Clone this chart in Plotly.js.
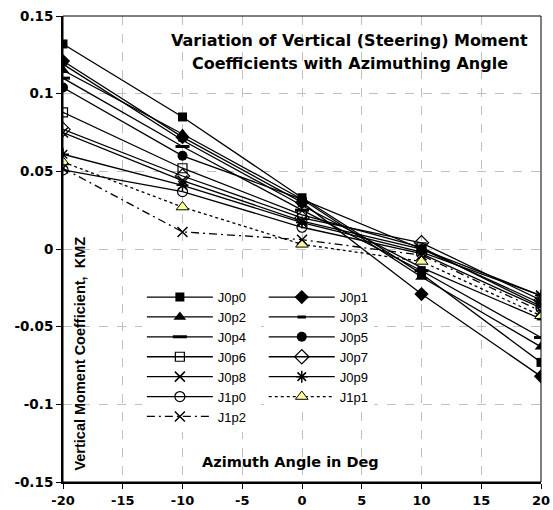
<!DOCTYPE html>
<html>
<head>
<meta charset="utf-8">
<script src="https://cdn.plot.ly/plotly-3.0.1.min.js"></script>
<style>html,body{margin:0;padding:0;background:#fff;}#chart{width:553px;height:510px;}</style>
</head>
<body>
<div id="chart"></div>
<script>
const angles = [-20, -10, 0, 10, 20];
const seriesNames = ["J0p0","J0p1","J0p2","J0p3","J0p4","J0p5","J0p6","J0p7","J0p8","J0p9","J1p0","J1p1","J1p2"];
const J0p0 = [0.132, 0.085, 0.033, -0.016, -0.073];
const J0p1 = [0.121, 0.072, 0.030, -0.029, -0.082];
const J0p2 = [0.115, 0.074, 0.032, -0.018, -0.063];
const J0p3 = [0.119, 0.070, 0.028, -0.012, -0.045];
const J0p4 = [0.110, 0.066, 0.025, -0.014, -0.057];
const J0p5 = [0.104, 0.060, 0.032, 0.000, -0.035];
const J0p6 = [0.088, 0.052, 0.022, 0.001, -0.037];
const J0p7 = [0.077, 0.047, 0.020, 0.004, -0.033];
const J0p8 = [0.075, 0.044, 0.018, 0.000, -0.030];
const J0p9 = [0.061, 0.041, 0.017, -0.002, -0.030];
const J1p0 = [0.051, 0.037, 0.014, -0.003, -0.038];
const J1p1 = [0.056, 0.027, 0.003, -0.008, -0.043];
const J1p2 = [0.052, 0.011, 0.006, -0.004, -0.040];
const seriesValues = [J0p0,J0p1,J0p2,J0p3,J0p4,J0p5,J0p6,J0p7,J0p8,J0p9,J1p0,J1p1,J1p2];
const xTicks = [-20,-15,-10,-5,0,5,10,15,20];
const yTicks = [-0.15,-0.1,-0.05,0,0.05,0.1,0.15];
const yTickText = ["-0.15","-0.1","-0.05","0","0.05","0.1","0.15"];

const styles = [
  {symbol:"square", size:9, color:"#000", lw:0, dash:"solid"},
  {symbol:"diamond", size:11, color:"#000", lw:0, dash:"solid"},
  {symbol:"triangle-up", size:11, color:"#000", lw:0, dash:"solid"},
  {symbol:"line-ew", size:6, color:"#000", lw:3, dash:"solid"},
  {symbol:"line-ew", size:10, color:"#000", lw:3, dash:"solid"},
  {symbol:"circle", size:10, color:"#000", lw:0, dash:"solid"},
  {symbol:"square-open", size:9, color:"#000", lw:1.2, dash:"solid"},
  {symbol:"diamond-open", size:11, color:"#000", lw:1.2, dash:"solid"},
  {symbol:"x-thin", size:10, color:"#000", lw:1.5, dash:"solid"},
  {symbol:"asterisk", size:10, color:"#000", lw:1.5, dash:"solid"},
  {symbol:"circle-open", size:10, color:"#000", lw:1.2, dash:"solid"},
  {symbol:"triangle-up", size:11, color:"#FFFF99", lw:1, dash:"dot"},
  {symbol:"x-thin", size:10, color:"#000", lw:1.5, dash:"8px,4px,2px,4px"}
];

const traces = seriesNames.map((name, i) => ({
  x: angles, y: seriesValues[i], name: name, type: "scatter", mode: "lines+markers",
  legend: (i % 2 === 0) ? "legend" : "legend2",
  line: {color: "#000", width: 1.3, dash: styles[i].dash},
  marker: {symbol: styles[i].symbol, size: styles[i].size, color: styles[i].color,
           line: {color: "#000", width: styles[i].lw}}
}));

const legendFont = {size: 13, family: "Liberation Sans, Arial, sans-serif", color: "#000"};
const boldFont = "DejaVu Sans, Liberation Sans, sans-serif";

const layout = {
  width: 553, height: 510,
  margin: {l: 63, r: 12, t: 16, b: 28},
  paper_bgcolor: "#fff", plot_bgcolor: "#fff",
  font: {family: "Liberation Sans, Arial, sans-serif", color: "#000"},
  showlegend: true,
  legend: {
    x: 0.165, y: 0.429, xanchor: "left", yanchor: "top",
    orientation: "v", itemwidth: 66, tracegroupgap: 0,
    bgcolor: "#fff", font: legendFont
  },
  legend2: {
    x: 0.42, y: 0.429, xanchor: "left", yanchor: "top",
    orientation: "v", itemwidth: 66, tracegroupgap: 0,
    bgcolor: "#fff", font: legendFont
  },
  xaxis: {
    range: [-20, 20], tickvals: xTicks, ticktext: xTicks.map(String),
    showgrid: true, gridcolor: "#c0c0c0", griddash: "dash", gridwidth: 1,
    zeroline: false, showline: true, linecolor: "#000", linewidth: 2,
    ticks: "outside", ticklen: 5, tickcolor: "#000", ticklabelstandoff: 0,
    tickfont: {size: 13, family: boldFont, weight: "bold"}
  },
  yaxis: {
    range: [-0.15, 0.15], tickvals: yTicks, ticktext: yTickText,
    showgrid: true, gridcolor: "#c0c0c0", griddash: "dash", gridwidth: 1,
    zeroline: false, showline: true, linecolor: "#000", linewidth: 2,
    ticks: "outside", ticklen: 5, tickcolor: "#000",
    tickfont: {size: 13.5, family: boldFont, weight: "bold"}
  },
  shapes: [
    {type: "rect", xref: "paper", yref: "paper", x0: 0, x1: 1, y0: 0, y1: 1,
     line: {color: "#000", width: 1}, layer: "above"}
  ],
  annotations: [
    {text: "<b>Variation of Vertical (Steering) Moment</b>",
     xref: "paper", yref: "paper", x: 0.6, y: 1 - (40 - 16) / 466, xanchor: "center", yanchor: "middle",
     showarrow: false, align: "center", font: {size: 16, family: boldFont}},
    {text: "<b>Coefficients with Azimuthing Angle</b>",
     xref: "paper", yref: "paper", x: 0.6, y: 1 - (64 - 16) / 466, xanchor: "center", yanchor: "middle",
     showarrow: false, align: "center", font: {size: 16, family: boldFont}},
    {text: "<b>Azimuth Angle in Deg</b>", xref: "paper", yref: "paper",
     x: 0.475, y: 0.043, xanchor: "center", yanchor: "middle", showarrow: false,
     font: {size: 14.5, family: boldFont}},
    {text: "<b>Vertical Moment Coefficient,  KMZ</b>", xref: "paper", yref: "paper",
     x: 0.035, y: 0.275, xanchor: "center", yanchor: "middle", showarrow: false, textangle: -90,
     font: {size: 14.5, family: "Liberation Sans, Arial, sans-serif"}}
  ]
};

Plotly.newPlot("chart", traces, layout, {displayModeBar: false, staticPlot: true});
</script>
</body>
</html>
